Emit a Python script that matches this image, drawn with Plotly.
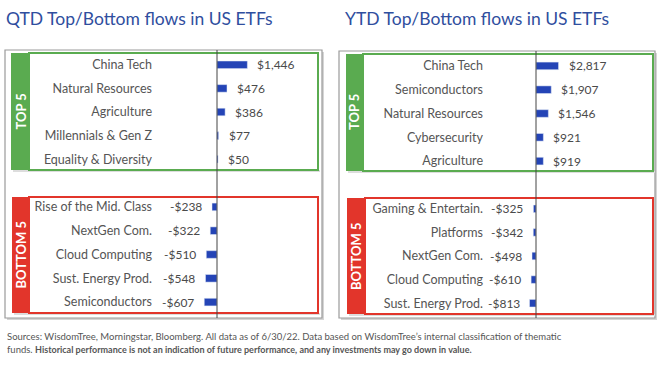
import plotly.graph_objects as go

W, H = 660, 367


def px(x):
    return x / W


def py(y):
    return 1 - y / H


# ---------------- data ----------------
qtd_top_cats = ["China Tech", "Natural Resources", "Agriculture", "Millennials & Gen Z", "Equality & Diversity"]
qtd_top_vals = [1446, 476, 386, 77, 50]
qtd_bot_cats = ["Rise of the Mid. Class", "NextGen Com.", "Cloud Computing", "Sust. Energy Prod.", "Semiconductors"]
qtd_bot_vals = [-238, -322, -510, -548, -607]
ytd_top_cats = ["China Tech", "Semiconductors", "Natural Resources", "Cybersecurity", "Agriculture"]
ytd_top_vals = [2817, 1907, 1546, 921, 919]
ytd_bot_cats = ["Gaming & Entertain.", "Platforms", "NextGen Com.", "Cloud Computing", "Sust. Energy Prod."]
ytd_bot_vals = [-325, -342, -498, -610, -813]

titles = ["QTD Top/Bottom flows in US ETFs", "YTD Top/Bottom flows in US ETFs"]
footer1 = ("Sources: WisdomTree, Morningstar, Bloomberg. All data as of 6/30/22. Data based on "
           "WisdomTree\u2019s internal classification of thematic")
footer2 = ("funds. <span style='font-size:9px'><b>Historical performance is not an indication of future "
           "performance, and any investments may go down in value.</b></span>")

FONT = "Lato"
BAR = "#2444B6"
GREEN = "#5AAB50"
RED = "#E2352B"
TXT = "#555555"
VAL = "#4A4A4A"
TITLE = "#2F4E9E"


def fmt(v):
    return f"${v:,}" if v >= 0 else f"-${abs(v):,}"


# panel layout (pixel geometry)
# cats, vals, x-domain px, zero px, px per unit, y-domain px
panels = [
    (qtd_top_cats, qtd_top_vals, (153, 318), 217, 0.021, (53, 171)),
    (qtd_bot_cats, qtd_bot_vals, (153, 318), 217, 0.021, (195, 314)),
    (ytd_top_cats, ytd_top_vals, (484, 653), 536, 0.008, (54, 173)),
    (ytd_bot_cats, ytd_bot_vals, (484, 653), 536, 0.008, (197, 315)),
]

fig = go.Figure()
annotations = []
shapes = []

for i, (cats, vals, xd, zero, k, yd) in enumerate(panels, start=1):
    xa = "x" if i == 1 else f"x{i}"
    ya = "y" if i == 1 else f"y{i}"
    fig.add_trace(go.Bar(
        x=vals, y=cats, orientation="h", marker_color=BAR, width=0.32,
        xaxis=xa, yaxis=ya, showlegend=False, hoverinfo="x+y",
    ))
    rng = [-(zero - xd[0]) / k, (xd[1] - zero) / k]
    fig.update_layout(**{
        ("xaxis" if i == 1 else f"xaxis{i}"): dict(
            domain=[px(xd[0]), px(xd[1])], range=rng, visible=False,
            anchor=ya, fixedrange=True,
        ),
        ("yaxis" if i == 1 else f"yaxis{i}"): dict(
            domain=[py(yd[1]), py(yd[0])], anchor=xa, type="category",
            autorange="reversed", showgrid=False, showline=False, ticks="",
            tickfont=dict(family=FONT, size=12.5, color=TXT), fixedrange=True,
        ),
    })
    for c, v in zip(cats, vals):
        annotations.append(dict(
            xref=xa, yref=ya, x=v, y=c, text=fmt(v), showarrow=False,
            xanchor="left" if v >= 0 else "right", xshift=8 if v >= 0 else -8,
            font=dict(family=FONT, size=12, color=VAL),
        ))

# outer gray frames with shadow
for (x0, y0, x1, y1) in [(5, 50, 322, 318), (339, 51, 655, 318)]:
    shapes.append(dict(type="rect", xref="paper", yref="paper", layer="below",
                       x0=px(x0 + 2), x1=px(x1 + 2), y0=py(y1 + 2), y1=py(y0 + 2),
                       fillcolor="#D5D5D5", line=dict(width=0)))
    shapes.append(dict(type="rect", xref="paper", yref="paper", layer="below",
                       x0=px(x0), x1=px(x1), y0=py(y1), y1=py(y0),
                       fillcolor="white", line=dict(color="#9A9A9A", width=1.2)))

# colored group boxes + label tabs
groups = [
    (11, 29, 318, 53, 170, GREEN, "TOP 5"),
    (12, 29, 318, 197, 313, RED, "BOTTOM 5"),
    (346, 363, 653, 54, 171, GREEN, "TOP 5"),
    (347, 365, 653, 198, 314, RED, "BOTTOM 5"),
]
for (tx0, bx0, bx1, y0, y1, col, label) in groups:
    # soft shadow under the box
    shapes.append(dict(type="rect", xref="paper", yref="paper", layer="below",
                       x0=px(tx0 + 2), x1=px(bx1 + 2), y0=py(y1 + 2), y1=py(y1),
                       fillcolor="#DDDDDD", line=dict(width=0)))
    shapes.append(dict(type="rect", xref="paper", yref="paper",
                       x0=px(tx0), x1=px(bx0), y0=py(y1), y1=py(y0),
                       fillcolor=col, line=dict(width=0)))
    shapes.append(dict(type="rect", xref="paper", yref="paper",
                       x0=px(bx0), x1=px(bx1), y0=py(y1), y1=py(y0),
                       fillcolor="rgba(0,0,0,0)", line=dict(color=col, width=2)))
    annotations.append(dict(xref="paper", yref="paper", x=px((tx0 + bx0) / 2),
                            y=py((y0 + y1) / 2), text=f"<b>{label}</b>", textangle=-90,
                            xanchor="center", yanchor="middle",
                            showarrow=False, font=dict(family=FONT, size=13, color="white")))

# vertical zero lines across both boxes
for xa, (ytop, ybot) in [("x", (50, 318)), ("x3", (51, 318))]:
    shapes.append(dict(type="line", xref=xa, yref="paper", x0=0, x1=0,
                       y0=py(ybot), y1=py(ytop), line=dict(color="#444444", width=1)))

# titles
for x0, t in [(4, titles[0]), (343, titles[1])]:
    annotations.append(dict(xref="paper", yref="paper", x=px(x0), y=py(18), text=t,
                            xanchor="left", yanchor="middle", showarrow=False,
                            font=dict(family=FONT, size=17.5, color=TITLE)))

# footer
annotations.append(dict(xref="paper", yref="paper", x=px(5), y=py(336), text=footer1,
                        xanchor="left", yanchor="middle", showarrow=False,
                        font=dict(family=FONT, size=9.5, color=TXT)))
annotations.append(dict(xref="paper", yref="paper", x=px(5), y=py(349), text=footer2,
                        xanchor="left", yanchor="middle", showarrow=False,
                        font=dict(family=FONT, size=9.5, color=TXT)))

fig.update_layout(
    width=W, height=H, margin=dict(l=0, r=0, t=0, b=0),
    paper_bgcolor="white", plot_bgcolor="rgba(0,0,0,0)",
    shapes=shapes, annotations=annotations,
    font=dict(family=FONT, color=TXT),
)

fig.write_html(
    "out.html",
    config={"displayModeBar": False},
    post_script="document.body.style.margin='0';document.body.style.padding='0';"
                "document.body.style.overflow='hidden';",
)
